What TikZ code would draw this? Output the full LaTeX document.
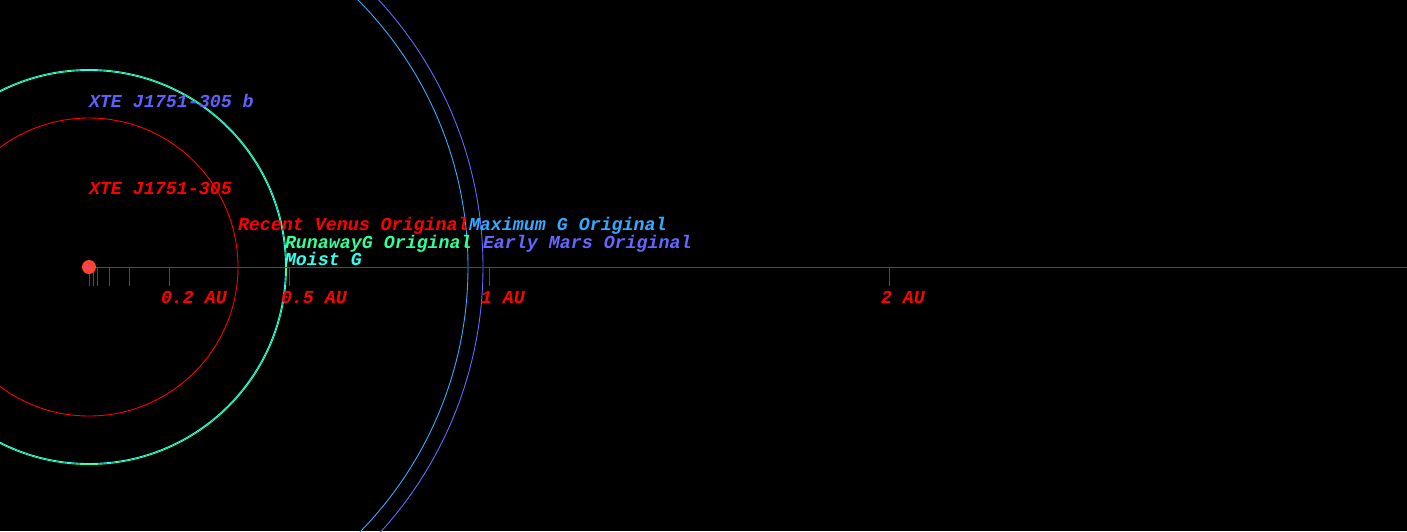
\documentclass[tikz,border=0pt]{standalone}
\usepackage{fontspec}
\newfontfamily\orbmono{Liberation Mono}
\definecolor{cred}{HTML}{FF0000}
\definecolor{cstar}{HTML}{FF4433}
\definecolor{cdot}{HTML}{9944FF}
\definecolor{cplanet}{HTML}{5F5FFF}
\definecolor{cgreen}{HTML}{33FF99}
\definecolor{ccyan}{HTML}{33FFEE}
\definecolor{cmax}{HTML}{33AAFF}
\definecolor{cmars}{HTML}{6666FF}
\tikzset{
  lbl/.style={anchor=base west, inner sep=0pt, outer sep=0pt, font=\orbmono\bfseries\itshape\fontsize{18.3}{20}\selectfont},
  orb/.style={line width=0.9pt},
  tck/.style={cred, line width=0.9pt}
}
\begin{document}
\begin{tikzpicture}[x=1pt,y=-1pt]
\fill[black] (0,0) rectangle (1407,531);
\useasboundingbox (0,0) rectangle (1407,531);
\begin{scope}
\clip (0,0) rectangle (1407,531);
% orbits
\draw[orb, cred] (89,267) circle (149);
\draw[orb, cgreen] (89,267) circle (197.5);
\draw[orb, ccyan] (89,267) circle (196.5);
\draw[orb, cmax] (89,267) circle (379);
\draw[orb, cmars] (89,267) circle (394);
% axis
\coordinate (s) at (89,267);
\coordinate (e) at (1407,267);
\draw[tck] (s) -- (e);
\foreach \d in {0,0.01,0.02,0.05,0.1,0.2,0.5,1,2}{
  \draw[tck] (89.3+400*\d,267) -- (89.3+400*\d,285.5);
}
% star
\fill[cstar] (89,267) circle (7);
\fill[cdot] (88.7,266.5) circle (1.2);
\end{scope}
% labels
\node[lbl, text=cplanet] (pb) at (89,107) {XTE J1751-305 b};
\node[lbl, text=cred] (ps) at (89,194) {XTE J1751-305};
\node[lbl, text=cred] (rv) at (238,230.5) {Recent Venus Original};
\node[lbl, text=cmax] (mg) at (469,230.5) {Maximum G Original};
\node[lbl, text=cgreen] (rg) at (285,248) {RunawayG Original};
\node[lbl, text=cmars] (em) at (483,248) {Early Mars Original};
\node[lbl, text=ccyan] (mo) at (285,265.5) {Moist G};
\node[lbl, text=cred] (a02) at (161,303) {0.2 AU};
\node[lbl, text=cred] (a05) at (281,303) {0.5 AU};
\node[lbl, text=cred] (a1) at (481,303) {1 AU};
\node[lbl, text=cred] (a2) at (881,303) {2 AU};
\end{tikzpicture}
\end{document}
